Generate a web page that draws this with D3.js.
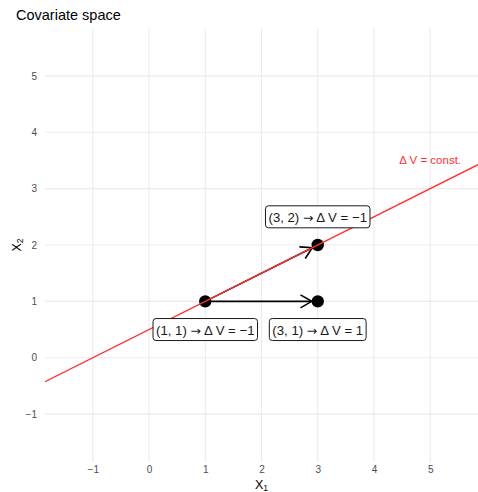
<!DOCTYPE html>
<html>
<head>
<meta charset="utf-8">
<script src="https://cdn.jsdelivr.net/npm/d3@7"></script>
<style>
  body { margin: 0; background: #fff; }
  text { font-family: "Liberation Sans", Arial, sans-serif; }
</style>
</head>
<body>
<svg id="chart" width="478" height="492"></svg>
<script>
// Covariate points and moves between them
const pointsX = [1, 3, 3];
const pointsY = [1, 1, 2];
const arrowFrom = [[1, 1], [1, 1]];
const arrowTo = [[3, 1], [3, 2]];

// Boxed annotations: start point, arrow, resulting change
const labelX = [3, 1, 3];
const labelY = [2.5, 0.5, 0.5];
const labelPoint = ["(3, 2)", "(1, 1)", "(3, 1)"];
const labelChange = ["\u0394 V = \u22121", "\u0394 V = \u22121", "\u0394 V = 1"];

// Iso-line of constant ΔV: X2 = intercept + slope * X1
const lineIntercept = 0.5;
const lineSlope = 0.5;
const lineLabel = "\u0394 V = const.";
const lineLabelX = 5;
const lineLabelY = 3.5;

const ticks = [-1, 0, 1, 2, 3, 4, 5];
const limits = [-1.5, 5.5];

const svg = d3.select("#chart");
const panel = { left: 45, right: 478, top: 28, bottom: 462 };
const pad = (limits[1] - limits[0]) * 0.05;
const dom = [limits[0] - pad, limits[1] + pad];

const x = d3.scaleLinear().domain(dom).range([panel.left, panel.right]);
const y = d3.scaleLinear().domain(dom).range([panel.bottom, panel.top]);

// grid
const grid = svg.append("g");
grid.selectAll("line.v").data(ticks).join("line")
  .attr("x1", d => x(d)).attr("x2", d => x(d))
  .attr("y1", panel.top).attr("y2", panel.bottom)
  .attr("stroke", "#ebebeb").attr("stroke-width", 1.1);
grid.selectAll("line.h").data(ticks).join("line")
  .attr("y1", d => y(d)).attr("y2", d => y(d))
  .attr("x1", panel.left).attr("x2", panel.right)
  .attr("stroke", "#ebebeb").attr("stroke-width", 1.1);

// axes (labels only)
const fmt = d => d < 0 ? "\u2212" + Math.abs(d) : d;
const xAxis = d3.axisBottom(x).tickValues(ticks).tickSize(0).tickPadding(4).tickFormat(fmt);
const gx = svg.append("g").attr("transform", `translate(0,${panel.bottom})`).call(xAxis);
gx.select(".domain").remove();
gx.selectAll("text").attr("fill", "#4d4d4d").attr("font-size", 10);

const yAxis = d3.axisLeft(y).tickValues(ticks).tickSize(0).tickPadding(8).tickFormat(fmt);
const gy = svg.append("g").attr("transform", `translate(${panel.left},0)`).call(yAxis);
gy.select(".domain").remove();
gy.selectAll("text").attr("fill", "#4d4d4d").attr("font-size", 10);

// axis titles
const xt = svg.append("text").attr("x", (panel.left + panel.right) / 2).attr("y", 488.5)
  .attr("text-anchor", "middle").attr("font-size", 12.5).attr("fill", "#000");
xt.append("tspan").text("X");
xt.append("tspan").attr("font-size", 8.5).attr("dy", 2).text("1");

const yt = svg.append("text").attr("transform", `translate(21,${(panel.top + panel.bottom) / 2}) rotate(-90)`)
  .attr("text-anchor", "middle").attr("font-size", 12.5).attr("fill", "#000");
yt.append("tspan").text("X");
yt.append("tspan").attr("font-size", 8.5).attr("dy", 2).text("2");

// title
svg.append("text").attr("x", 16).attr("y", 20).attr("font-size", 14.5).attr("fill", "#000")
  .text("Covariate space");

// clip for the iso-line
svg.append("defs").append("clipPath").attr("id", "panel")
  .append("rect").attr("x", panel.left).attr("y", panel.top)
  .attr("width", panel.right - panel.left).attr("height", panel.bottom - panel.top);

// arrows
const arrows = svg.append("g");
arrowFrom.forEach((f, i) => {
  const t = arrowTo[i];
  const x0 = x(f[0]), y0 = y(f[1]), x1 = x(t[0]), y1 = y(t[1]);
  const ang = Math.atan2(y1 - y0, x1 - x0);
  const shorten = 6;
  const ex = x1 - shorten * Math.cos(ang), ey = y1 - shorten * Math.sin(ang);
  arrows.append("line").attr("x1", x0).attr("y1", y0).attr("x2", ex).attr("y2", ey)
    .attr("stroke", "#000").attr("stroke-width", 1.6);
  const L = 13, spread = Math.PI / 6;
  const p1 = [ex - L * Math.cos(ang - spread), ey - L * Math.sin(ang - spread)];
  const p2 = [ex - L * Math.cos(ang + spread), ey - L * Math.sin(ang + spread)];
  arrows.append("path").attr("d", `M${p1[0]},${p1[1]}L${ex},${ey}L${p2[0]},${p2[1]}`)
    .attr("fill", "none").attr("stroke", "#000").attr("stroke-width", 1.6);
});

// points
svg.append("g").selectAll("circle").data(pointsX).join("circle")
  .attr("cx", d => x(d)).attr("cy", (d, i) => y(pointsY[i])).attr("r", 6.2)
  .attr("fill", "#000");

// iso-line
svg.append("line").attr("clip-path", "url(#panel)")
  .attr("x1", x(dom[0])).attr("y1", y(lineIntercept + lineSlope * dom[0]))
  .attr("x2", x(dom[1])).attr("y2", y(lineIntercept + lineSlope * dom[1]))
  .attr("stroke", "#ff3030").attr("stroke-width", 1.4);

svg.append("text").attr("x", x(lineLabelX)).attr("y", y(lineLabelY))
  .attr("text-anchor", "middle").attr("dominant-baseline", "central")
  .attr("font-size", 11.5).attr("fill", "#ff3030").text(lineLabel);

// boxed labels
const lab = svg.append("g");
labelPoint.forEach((s, i) => {
  const g = lab.append("g");
  const t = g.append("text").attr("x", x(labelX[i])).attr("y", y(labelY[i]))
    .attr("text-anchor", "middle").attr("dominant-baseline", "central")
    .attr("font-size", 13.2).attr("fill", "#1a1a1a");
  t.append("tspan").text(s + " ");
  t.append("tspan").attr("font-family", "DejaVu Sans").attr("font-size", 12.5).text("\u2192");
  t.append("tspan").text(" " + labelChange[i]);
  const bb = t.node().getBBox();
  g.insert("rect", "text")
    .attr("x", bb.x - 3).attr("y", y(labelY[i]) - 11)
    .attr("width", bb.width + 6).attr("height", 22)
    .attr("rx", 3).attr("ry", 3)
    .attr("fill", "#fff").attr("stroke", "#1a1a1a").attr("stroke-width", 1);
});
</script>
</body>
</html>
